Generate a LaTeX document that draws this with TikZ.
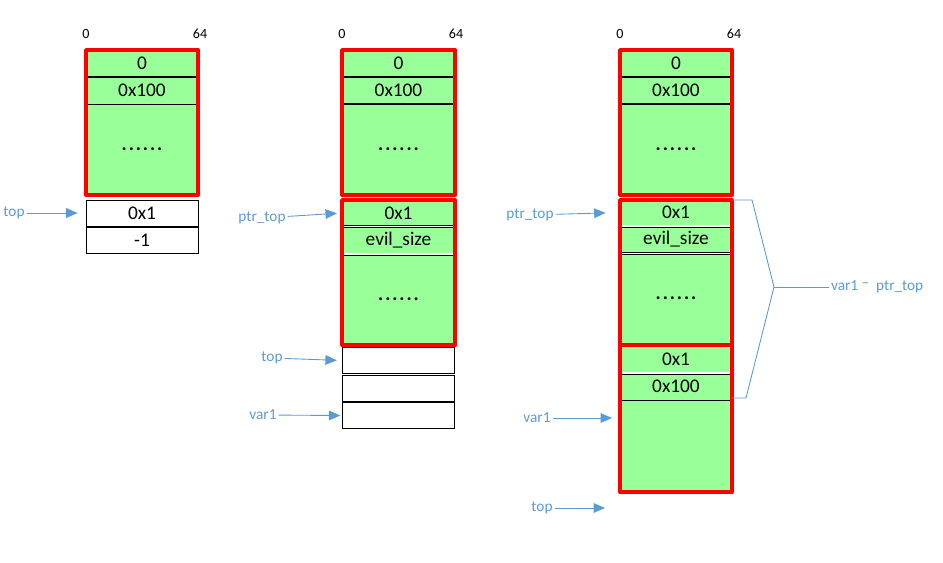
\documentclass[tikz,border=0pt]{standalone}
\usepackage{fontspec}
\setmainfont{Carlito}
\usetikzlibrary{arrows.meta}
\definecolor{ptrblue}{RGB}{91,155,213}
\definecolor{chunkgreen}{RGB}{153,255,153}
\newcommand{\sixdots}{\textbf{.\kern1.1pt.\kern1.1pt.\kern1.1pt.\kern1.1pt.\kern1.1pt.}}
\tikzset{
  cell/.style={minimum width=2.24cm, minimum height=0.52cm, inner sep=0pt, font=\fontsize{11}{13}\selectfont},
  freecell/.style={cell, draw=black, line width=0.5pt, fill=white},
  chunkfill/.style={fill=chunkgreen},
  chunkline/.style={draw=red, line width=2.2pt, line join=round},
  sep/.style={line width=1pt},
  thinsep/.style={line width=0.5pt},
  dsep/.style={double, double distance=0.8pt, line width=0.45pt},
  lbl/.style={text=ptrblue, font=\fontsize{8.7}{10}\selectfont, inner sep=1pt},
  ptr/.style={draw=ptrblue, line width=0.5pt, -{Triangle[length=6.5pt,width=5.5pt]}},
  bitlbl/.style={font=\fontsize{8}{10}\selectfont, inner sep=0pt}
}
\begin{document}
\begin{tikzpicture}[x=0.02cm, y=-0.02cm]
	\useasboundingbox (0,0) rectangle (943,562);

	% first state
	\node[bitlbl] (b1l) at (86,34) {0};
	\node[bitlbl] (b1r) at (200,34) {64};
	\fill[chunkfill] (86,50) rectangle (198,195);
	\draw[sep] (86,77) -- (198,77);
	\draw[thinsep] (86,104) -- (198,104);
	\node[cell] (c1a) at (142,63.5) {0};
	\node[cell] (c1b) at (142,90.5) {0x100};
	\node[cell] (c1c) at (142,149) {\sixdots};
	\draw[chunkline] (86,50) rectangle (198,195);
	\node[freecell] (c1d) at (142,213) {0x1};
	\node[freecell] (c1e) at (142,240.5) {-1};
	\node[lbl] (top1) at (14,213) {top};
	\draw[ptr, shorten >=4.5pt] (top1) -- (c1d.west);

	% second state
	\node[bitlbl] (b2l) at (342,34) {0};
	\node[bitlbl] (b2r) at (456,34) {64};
	\fill[chunkfill] (342,50) rectangle (455,345);
	\draw[sep] (342,77) -- (455,77);
	\draw[sep] (342,104) -- (455,104);
	\draw[dsep] (342,226.5) -- (455,226.5);
	\draw[dsep] (342,254) -- (455,254);
	\node[cell] (c2a) at (398.5,63.5) {0};
	\node[cell] (c2b) at (398.5,90.5) {0x100};
	\node[cell] (c2c) at (398.5,149) {\sixdots};
	\node[cell] (c2d) at (398.5,213) {0x1};
	\node[cell] (c2e) at (398.5,240) {evil\_size};
	\node[cell] (c2f) at (398.5,299) {\sixdots};
	\draw[chunkline] (342,50) rectangle (455,195);
	\draw[chunkline] (342,200) rectangle (455,345);
	\node[freecell] (c2g) at (398.5,360.5) {};
	\node[freecell] (c2h) at (398.5,388) {};
	\node[freecell] (c2i) at (398.5,415.5) {};
	\node[lbl] (ptr2) at (262,218) {ptr\_top};
	\node[lbl] (top2) at (272,358) {top};
	\node[lbl] (var2) at (263,415) {var1};
	\draw[ptr, shorten >=3pt] (ptr2) -- (c2d.west);
	\draw[ptr, shorten >=3pt] (top2) -- (c2g.west);
	\draw[ptr, shorten >=1pt] (var2) -- (c2i.west);

	% third state
	\node[bitlbl] (b3l) at (620,34) {0};
	\node[bitlbl] (b3r) at (734,34) {64};
	\fill[chunkfill] (620,50) rectangle (732,492);
	\draw[sep] (620,77) -- (732,77);
	\draw[sep] (620,104) -- (732,104);
	\draw[dsep] (620,226) -- (732,226);
	\draw[dsep] (620,253.5) -- (732,253.5);
	\draw[dsep] (620,373) -- (732,373);
	\draw[sep] (620,400.5) -- (732,400.5);
	\node[cell] (c3a) at (676,63.5) {0};
	\node[cell] (c3b) at (676,90.5) {0x100};
	\node[cell] (c3c) at (676,149) {\sixdots};
	\node[cell] (c3d) at (676,212.5) {0x1};
	\node[cell] (c3e) at (676,239.5) {evil\_size};
	\node[cell] (c3f) at (676,298) {\sixdots};
	\node[cell] (c3g) at (676,359) {0x1};
	\node[cell] (c3h) at (676,386.5) {0x100};
	\draw[chunkline] (620,50) rectangle (732,195);
	\draw[chunkline] (620,200) rectangle (732,345);
	\draw[chunkline] (620,345) rectangle (732,492);
	\coordinate (var3end) at (612,418);
	\coordinate (top3end) at (605,508);
	\node[lbl] (ptr3) at (530,215) {ptr\_top};
	\node[lbl] (var3) at (537,418) {var1};
	\node[lbl] (top3) at (542,508) {top};
	\draw[ptr, shorten >=8pt] (ptr3) -- (c3d.west);
	\draw[ptr] (var3) -- (var3end);
	\draw[ptr] (top3) -- (top3end);

	% distance brace
	\node[lbl, anchor=west] (dist) at (829,287) {var1 \raisebox{0.45ex}{\textendash}\ \ ptr\_top};
	\coordinate (bup) at (732,200);
	\coordinate (blo) at (732,398);
	\draw[ptrblue, line width=0.5pt] (bup) -- (752,200) -- (774,287) -- (746,398) -- (blo);
	\draw[ptrblue, line width=0.5pt] (774,287) -- (dist.west);
\end{tikzpicture}
\end{document}
